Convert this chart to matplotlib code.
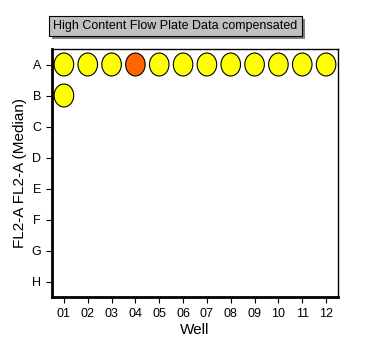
import matplotlib
matplotlib.use("Agg")
import matplotlib.pyplot as plt
from matplotlib.patches import Ellipse, Rectangle

plt.rcParams['font.family'] = ['Liberation Sans', 'DejaVu Sans']

rows = ['A', 'B', 'C', 'D', 'E', 'F', 'G', 'H']
cols = ['01', '02', '03', '04', '05', '06', '07', '08', '09', '10', '11', '12']

# wells that hold data: (row, column) and a relative median level
well_rows = ['A'] * 12 + ['B']
well_cols = cols + ['01']
well_level = [0, 0, 0, 1, 0, 0, 0, 0, 0, 0, 0, 0, 0]
level_colors = ['#ffff00', '#ff6600']

title = 'High Content Flow Plate Data compensated'

fig = plt.figure(figsize=(3.67, 3.58), dpi=100)
ax = fig.add_axes([52 / 367, 1 - 297 / 358, 286 / 367, 248 / 358])

for r, c, lv in zip(well_rows, well_cols, well_level):
    x = cols.index(c) + 1
    y = rows.index(r)
    ax.add_patch(Ellipse((x, y), 0.82, 0.74, facecolor=level_colors[lv],
                         edgecolor='black', linewidth=0.8))

ax.set_xlim(0.5, 12.5)
ax.set_ylim(7.5, -0.5)
ax.set_xticks(range(1, 13))
ax.set_xticklabels(cols)
ax.set_yticks(range(8))
ax.set_yticklabels(rows)
ax.tick_params(labelsize=9, length=4, width=0.8, pad=4)

ax.spines['left'].set_linewidth(2)
ax.spines['bottom'].set_linewidth(2)
ax.spines['top'].set_linewidth(1)
ax.spines['right'].set_linewidth(1)

ax.set_xlabel('Well', fontsize=11, labelpad=2)
ax.set_ylabel('FL2-A FL2-A (Median)', fontsize=11)
ax.yaxis.set_label_coords(-0.088, 0.5)

t = fig.text(175 / 367, 1 - 26 / 358, title, ha='center', va='center',
             fontsize=9, zorder=3,
             bbox=dict(boxstyle='square,pad=0.35', facecolor='#c0c0c0',
                       edgecolor='black', linewidth=0.8))

# drop shadow behind the title box
fig.canvas.draw()
bb = t.get_bbox_patch().get_window_extent()
fig.patches.append(Rectangle((bb.x0 + 3, bb.y0 - 3), bb.width, bb.height,
                             transform=None, facecolor='#808080',
                             edgecolor='none', zorder=2))

fig.savefig('out.png', dpi=100)
